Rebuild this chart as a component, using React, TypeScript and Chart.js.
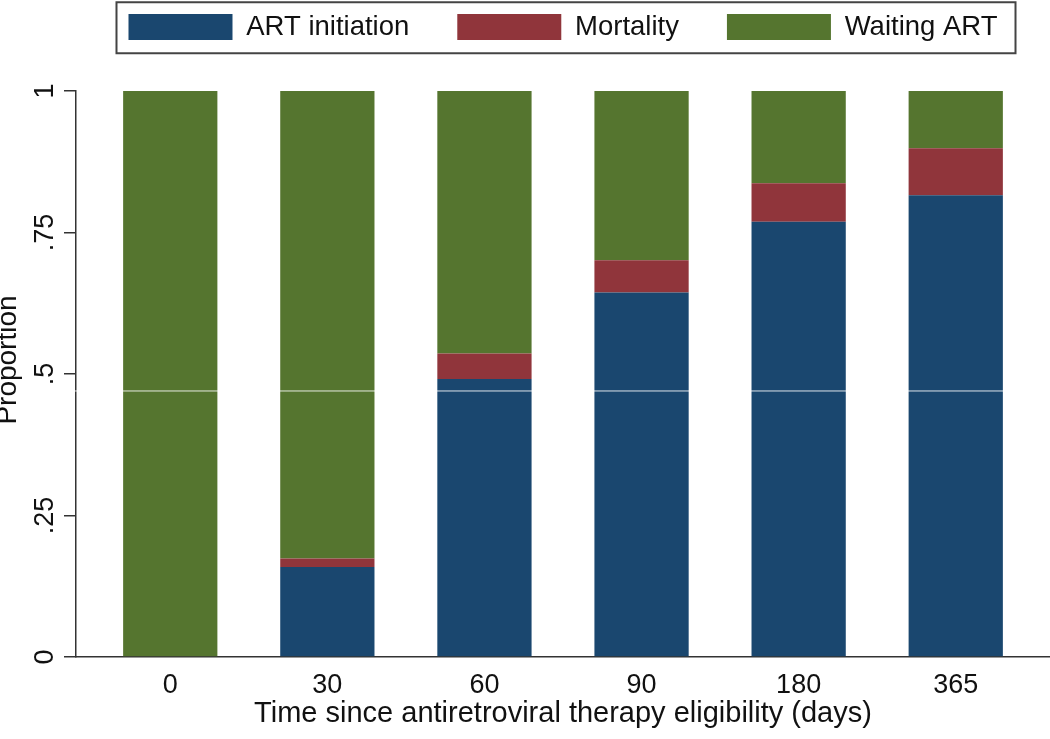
import React, { useEffect, useRef } from "react";
import { Chart, registerables } from "chart.js";

Chart.register(...registerables);

// ---- data ----
const categories = ["0", "30", "60", "90", "180", "365"];
const artInitiation = [0, 0.159, 0.491, 0.644, 0.769, 0.816];
const mortality = [0, 0.015, 0.045, 0.057, 0.068, 0.083];
const waitingArt = [1, 0.826, 0.464, 0.299, 0.163, 0.101];
const seriesNames = ["ART initiation", "Mortality", "Waiting ART"];
const yTickValues = [0, 0.25, 0.5, 0.75, 1];
const yTickLabels = ["0", ".25", ".5", ".75", "1"];
const xTitle = "Time since antiretroviral therapy eligibility (days)";
const yTitle = "Proportion";

// ---- style ----
const FONT = '"Liberation Sans", Arial, Helvetica, sans-serif';
const COLORS = ["#1a476f", "#90353b", "#55752f"];
const AXIS_COLOR = "#333333";
const TEXT_COLOR = "#111111";
const ARTIFACT_LEVEL = 0.47;
const LEGEND_PAD = 48;

export default function App() {
  const ref = useRef<HTMLCanvasElement>(null);

  useEffect(() => {
    const canvas = ref.current;
    if (!canvas) return;
    const toPts = (arr: number[]) => arr.map((y, i) => ({ x: i, y }));

    const legendSpacer = {
      id: "legendSpacer",
      beforeInit(chart: any) {
        const legend = chart.legend;
        if (!legend) return;
        const orig = legend.fit;
        legend.fit = function () {
          orig.call(this);
          this.height += 40.25;
        };
      },
    };

    const decorations = {
      id: "decorations",
      afterDatasetsDraw(chart: any) {
        const { ctx, chartArea, scales } = chart;
        const y = scales.y.getPixelForValue(ARTIFACT_LEVEL);
        ctx.save();
        ctx.strokeStyle = "rgba(255,255,255,0.85)";
        ctx.lineWidth = 1;
        ctx.beginPath();
        ctx.moveTo(chartArea.left - 1, y);
        ctx.lineTo(chartArea.right, y);
        ctx.stroke();
        ctx.restore();
      },
      afterDraw(chart: any) {
        const { ctx, chartArea, scales } = chart;
        const xs = scales.x;
        const ys = scales.y;
        ctx.save();
        ctx.fillStyle = TEXT_COLOR;

        // y tick labels (rotated)
        ctx.font = `27px ${FONT}`;
        ctx.textAlign = "center";
        ctx.textBaseline = "alphabetic";
        yTickValues.forEach((v, i) => {
          const py = ys.getPixelForValue(v);
          ctx.save();
          ctx.translate(53, py);
          ctx.rotate(-Math.PI / 2);
          ctx.fillText(yTickLabels[i], 0, 0);
          ctx.restore();
        });

        // y title
        ctx.font = `28px ${FONT}`;
        ctx.save();
        ctx.translate(16, (chartArea.top + chartArea.bottom) / 2 - 14);
        ctx.rotate(-Math.PI / 2);
        ctx.fillText(yTitle, 0, 0);
        ctx.restore();

        // x tick labels
        ctx.font = `27px ${FONT}`;
        categories.forEach((c, i) => {
          ctx.fillText(c, xs.getPixelForValue(i), chartArea.bottom + 36);
        });

        // x title
        ctx.font = `29px ${FONT}`;
        ctx.fillText(
          xTitle,
          (chartArea.left + chartArea.right) / 2,
          chartArea.bottom + 65
        );

        // legend border
        const hb = chart.legend && chart.legend.legendHitBoxes;
        if (hb && hb.length) {
          const first = hb[0];
          const last = hb[hb.length - 1];
          const x1 = first.left - 12;
          const x2 = last.left + last.width + 18;
          const y1 = first.top - 11;
          const y2 = first.top + 40;
          ctx.strokeStyle = "#444444";
          ctx.lineWidth = 2;
          ctx.strokeRect(x1, y1, x2 - x1, y2 - y1);
        }
        ctx.restore();
      },
    };

    const chart = new Chart(canvas, {
      type: "bar",
      data: {
        datasets: [
          {
            label: seriesNames[0],
            data: toPts(artInitiation),
            backgroundColor: COLORS[0],
            borderWidth: 0,
          },
          {
            label: seriesNames[1],
            data: toPts(mortality),
            backgroundColor: COLORS[1],
            borderWidth: 0,
          },
          {
            label: seriesNames[2],
            data: toPts(waitingArt),
            backgroundColor: COLORS[2],
            borderWidth: 0,
          },
        ],
      } as any,
      options: {
        animation: false,
        responsive: false,
        events: [],
        categoryPercentage: 1,
        barPercentage: 0.6,
        layout: {
          padding: { top: 13.25 - LEGEND_PAD, left: 0, right: 0, bottom: 0 },
        },
        plugins: {
          legend: {
            display: true,
            position: "top",
            fullSize: false,
            labels: {
              font: { family: FONT, size: 27.5 },
              color: TEXT_COLOR,
              boxWidth: 104,
              boxHeight: 26,
              padding: LEGEND_PAD,
            },
          },
          tooltip: { enabled: false },
          title: { display: false },
        },
        scales: {
          x: {
            type: "linear",
            stacked: true,
            min: -0.6,
            max: categories.length - 1 + 0.6,
            offset: false,
            afterBuildTicks: (axis: any) => {
              axis.ticks = categories.map((_, i) => ({ value: i }));
            },
            afterFit: (scale: any) => {
              scale.height = 82;
            },
            ticks: { display: false },
            grid: { display: false },
            border: { display: true, color: AXIS_COLOR, width: 1.5 },
          },
          y: {
            type: "linear",
            stacked: true,
            min: 0,
            max: 1,
            afterBuildTicks: (axis: any) => {
              axis.ticks = yTickValues.map((v) => ({ value: v }));
            },
            afterFit: (scale: any) => {
              scale.width = 76;
            },
            ticks: { display: false },
            grid: {
              display: true,
              drawOnChartArea: false,
              drawTicks: true,
              tickLength: 12,
              color: AXIS_COLOR,
              lineWidth: 1.5,
            },
            border: { display: true, color: AXIS_COLOR, width: 1.5 },
          },
        },
      } as any,
      plugins: [legendSpacer, decorations],
    });

    return () => chart.destroy();
  }, []);

  return (
    <div
      style={{
        position: "absolute",
        left: 0,
        top: 0,
        width: 1050,
        height: 739,
        background: "#ffffff",
      }}
    >
      <canvas ref={ref} width={1050} height={739} style={{ display: "block" }} />
    </div>
  );
}
